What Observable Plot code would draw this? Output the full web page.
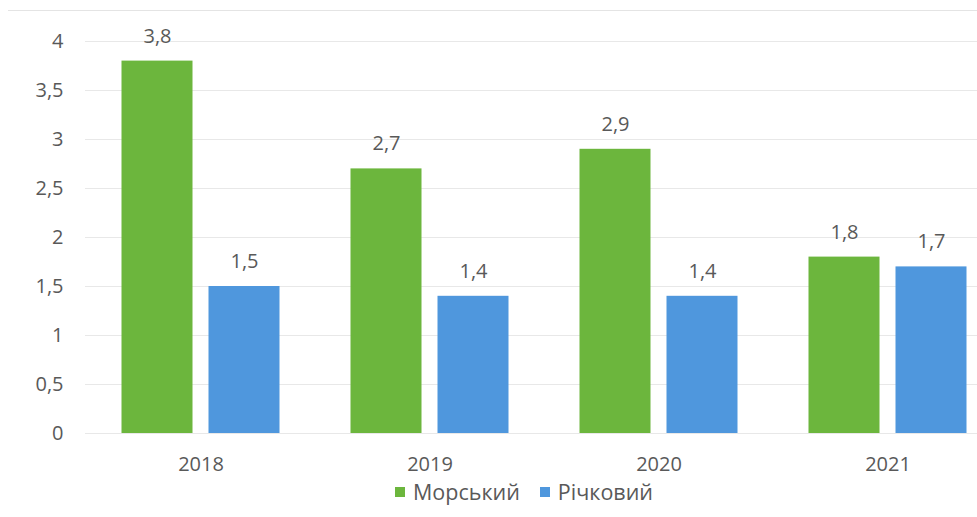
<!DOCTYPE html>
<html>
<head>
<meta charset="utf-8">
<script src="https://cdn.jsdelivr.net/npm/d3@7"></script>
<script src="https://cdn.jsdelivr.net/npm/@observablehq/plot@0.6"></script>
<style>
  html, body { margin: 0; padding: 0; background: white; }
  #wrap { position: relative; width: 977px; height: 517px; overflow: hidden; background: white; }
  #topline { position: absolute; left: 8px; right: 0; top: 10px; border-top: 1px solid #e4e4e4; }
  #legend { position: absolute; top: 477px; left: 0; width: 977px; display: flex; justify-content: flex-start; padding-left: 395px; box-sizing: border-box;
    font-family: "Open Sans", sans-serif; font-size: 21.5px; color: #595959; }
  .item { display: flex; align-items: center; margin-right: 20px; }
  .sw { width: 10px; height: 10px; margin-right: 8px; }
</style>
</head>
<body>
<div id="wrap">
  <div id="chart"></div>
  <div id="topline"></div>
  <div id="legend"></div>
</div>
<script>
const years = ["2018", "2019", "2020", "2021"];
const types = ["Морський", "Річковий"];
const seaValues = [3.8, 2.7, 2.9, 1.8];
const riverValues = [1.5, 1.4, 1.4, 1.7];
const yTicks = [0, 0.5, 1, 1.5, 2, 2.5, 3, 3.5, 4];
const colors = ["#6cb63d", "#4f97dd"];

const sea = years.map((yr, i) => ({year: yr, type: types[0], value: seaValues[i]}));
const river = years.map((yr, i) => ({year: yr, type: types[1], value: riverValues[i]}));
const fmt = d => String(d).replace(".", ",");

const chart = Plot.plot({
  width: 977,
  height: 478,
  marginLeft: 85,
  marginRight: 0,
  marginTop: 41,
  marginBottom: 45,
  style: {fontFamily: "'Open Sans', sans-serif", fontSize: "20px", color: "#595959", background: "white"},
  x: {domain: years, range: [85.5, 1001.5], padding: 0, label: null},
  y: {domain: [0, 4], label: null},
  marks: [
    Plot.ruleY(yTicks, {stroke: "#e8e8e8", strokeWidth: 1.2}),
    Plot.axisY({ticks: yTicks, tickSize: 0, tickPadding: 22, tickFormat: fmt, label: null, fontSize: 20}),
    Plot.axisX({tickSize: 0, tickPadding: 23, label: null, fontSize: 20}),
    Plot.barY(sea, {x: "year", y: "value", fill: colors[0], insetLeft: 35.5, insetRight: 122.5}),
    Plot.barY(river, {x: "year", y: "value", fill: colors[1], insetLeft: 122.5, insetRight: 35.5}),
    Plot.text(sea, {x: "year", y: "value", text: d => fmt(d.value), dx: -43.5, dy: -25, fill: "#595959", fontSize: 20}),
    Plot.text(river, {x: "year", y: "value", text: d => fmt(d.value), dx: 43.5, dy: -25, fill: "#595959", fontSize: 20})
  ]
});
document.getElementById("chart").appendChild(chart);

const legend = document.getElementById("legend");
types.forEach((t, i) => {
  const item = document.createElement("div");
  item.className = "item";
  const sw = document.createElement("div");
  sw.className = "sw";
  sw.style.background = colors[i];
  const label = document.createElement("span");
  label.textContent = t;
  item.appendChild(sw);
  item.appendChild(label);
  legend.appendChild(item);
});
</script>
</body>
</html>
